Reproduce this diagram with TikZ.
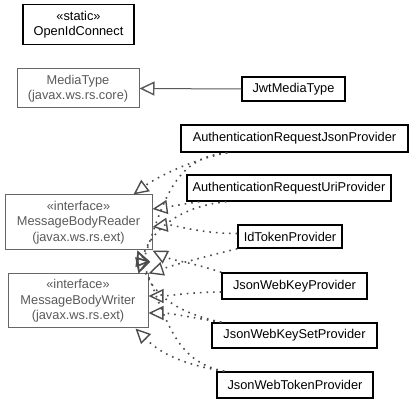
\documentclass[tikz,border=0pt]{standalone}
\usepackage{fontspec}
\setmainfont{Liberation Sans}
\usetikzlibrary{calc}
\usetikzlibrary{arrows.meta}

\tikzset{
  classbox/.style={draw=black, line width=1.4pt, align=center, inner sep=0pt,
    font=\fontsize{12.8}{15.5}\selectfont},
  extbox/.style={draw=black!60, line width=1pt, text=black!65, align=center, inner sep=0pt,
    font=\fontsize{12.8}{15.5}\selectfont},
  realize/.style={draw=black!70, line width=1.6pt, dash pattern=on 1.6pt off 5pt,
    -{Triangle[open,length=15pt,width=14pt,line width=1.4pt]}},
  extend/.style={draw=black!65, line width=1pt,
    -{Triangle[open,length=15pt,width=14pt,line width=1.4pt]}}
}

\begin{document}
\begin{tikzpicture}[x=1pt,y=-1pt]
            % Fix the page size
            \useasboundingbox (0,0) rectangle (413,403);

            % Draw the classes on the left
            \node[classbox, minimum width=111pt, minimum height=40pt] (openid) at (78.5,24.5) {«static»\\OpenIdConnect};
            \node[extbox, minimum width=122pt, minimum height=39pt] (media) at (78,88.5) {MediaType\\(javax.ws.rs.core)};
            \node[extbox, minimum width=147pt, minimum height=55pt] (reader) at (78.5,222.5) {«interface»\\MessageBodyReader\\(javax.ws.rs.ext)};
            \node[extbox, minimum width=140pt, minimum height=54pt] (writer) at (78,301) {«interface»\\MessageBodyWriter\\(javax.ws.rs.ext)};

            % Draw the classes on the right
            \node[classbox, minimum width=103pt, minimum height=24pt] (jwtmedia) at (293.5,89) {JwtMediaType};
            \node[classbox, minimum width=227pt, minimum height=27pt] (ajson) at (294.5,138.5) {AuthenticationRequestJsonProvider};
            \node[classbox, minimum width=204pt, minimum height=26pt] (auri) at (289,188) {AuthenticationRequestUriProvider};
            \node[classbox, minimum width=104pt, minimum height=23pt] (idtoken) at (290,236.5) {IdTokenProvider};
            \node[classbox, minimum width=145pt, minimum height=26pt] (jwk) at (294.5,286) {JsonWebKeyProvider};
            \node[classbox, minimum width=165pt, minimum height=25pt] (jwks) at (294.5,335.5) {JsonWebKeySetProvider};
            \node[classbox, minimum width=156pt, minimum height=26pt] (jwt) at (295,385) {JsonWebTokenProvider};

            % Draw the inheritance
            \draw[extend] (jwtmedia.west) -- (media.east);

            % Draw the realizations of MessageBodyReader
            \draw[realize] ([xshift=47pt]ajson.south west) .. controls +(-40,8) and +(20,-15) .. ([xshift=-19pt]reader.north east);
            \draw[realize] ([xshift=13pt]auri.south west) .. controls +(-20,3) and +(15,-2) .. ([yshift=13.5pt]reader.east);
            \draw[realize] ([yshift=3pt]idtoken.west) .. controls +(-40,0) and +(20,-3) .. ([yshift=-4.5pt]reader.east);
            \draw[realize] (jwk.north west) .. controls +(-30,-10) and +(20,10) .. (reader.south east);
            \draw[realize] ([xshift=10pt]jwks.north west) .. controls +(-45,-10) and +(15,45) .. ([xshift=-15pt]reader.south east);
            \draw[realize] ([xshift=8pt]jwt.north west) .. controls +(-50,-10) and +(30,70) .. ([xshift=-15pt]reader.south east);

            % Draw the realizations of MessageBodyWriter
            \draw[realize] ([xshift=47pt]ajson.south west) .. controls +(-55,5) and +(25,-70) .. ([xshift=-10pt]writer.north east);
            \draw[realize] ([xshift=40pt]auri.south west) .. controls +(-50,5) and +(10,-40) .. ([xshift=-10pt]writer.north east);
            \draw[realize] (idtoken.south west) .. controls +(-40,10) and +(30,-10) .. (writer.north east);
            \draw[realize] ([yshift=-6pt]jwk.west) .. controls +(-30,0) and +(20,0) .. ([yshift=5pt]writer.east);
            \draw[realize] ([xshift=10pt]jwks.north west) .. controls +(-30,-5) and +(20,0) .. ([yshift=-12pt]writer.east);
            \draw[realize] ([xshift=8pt]jwt.north west) .. controls +(-50,-8) and +(20,20) .. ([xshift=-13pt]writer.south east);
\end{tikzpicture}
\end{document}
